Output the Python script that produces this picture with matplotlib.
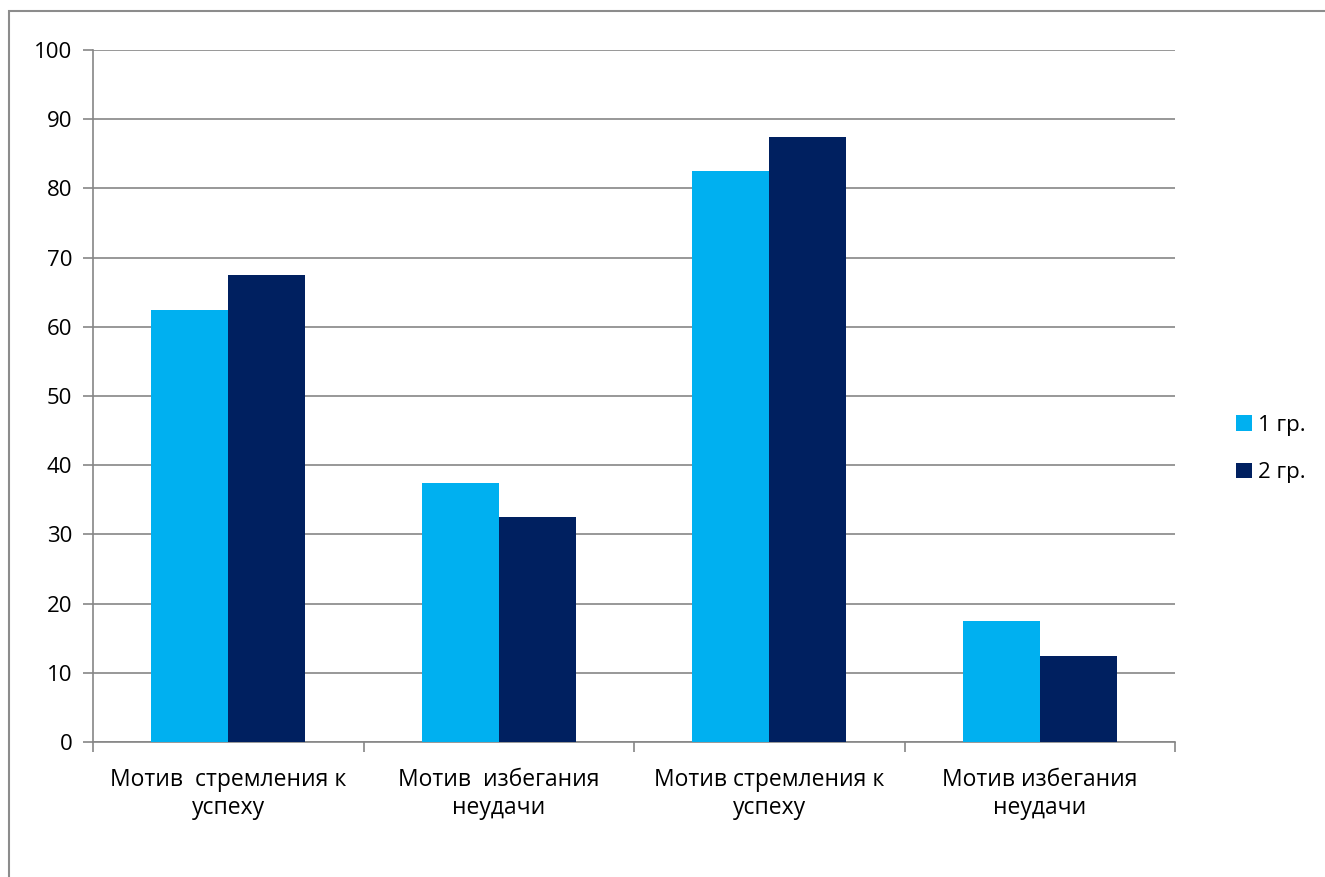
import numpy as np
import matplotlib
matplotlib.use("Agg")
from matplotlib import pyplot as plt
from matplotlib.patches import Rectangle

# Данные по группам
categories = ["Мотив  стремления к\nуспеху", "Мотив  избегания\nнеудачи",
              "Мотив стремления к\nуспеху", "Мотив избегания\nнеудачи"]
group1 = [62.5, 37.5, 82.5, 17.5]
group2 = [67.5, 32.5, 87.5, 12.5]
series_names = ["1 гр.", "2 гр."]
y_ticks = list(range(0, 101, 10))

plt.rcParams['font.family'] = ['Open Sans', 'DejaVu Sans']

fig = plt.figure(figsize=(13.25, 8.77), dpi=100)
ax = fig.add_axes([93/1325, 1 - 742/877, 1082/1325, 692/877])

# рамка области диаграммы
fig.patches.append(Rectangle((9/1325, -0.1), 1.2, 1 - 11/877 + 0.1,
                             transform=fig.transFigure, fill=False,
                             edgecolor='#8c8c8c', linewidth=1.5))

x = np.arange(len(categories))
w = 0.285
ax.bar(x - w/2, group1, w, color='#00B0F0', label=series_names[0], zorder=3)
ax.bar(x + w/2, group2, w, color='#002060', label=series_names[1], zorder=3)

ax.set_xlim(-0.5, len(categories) - 0.5)
ax.set_ylim(0, 100)
ax.set_yticks(y_ticks)
ax.yaxis.grid(True, color='#868686', linewidth=1.2, zorder=0)
ax.set_axisbelow(True)

# категории подписаны между делениями
ax.set_xticks(np.arange(-0.5, len(categories)), minor=False)
ax.set_xticklabels([])
ax.set_xticks(x, minor=True)
ax.set_xticklabels(categories, minor=True, fontsize=16.5, linespacing=1.2)
ax.tick_params(axis='x', which='minor', length=0, pad=19)
ax.tick_params(axis='x', which='major', length=7, color='#868686', width=1.2)
ax.tick_params(axis='y', length=7, color='#868686', width=1.2, labelsize=16, pad=8)

for s in ['top', 'right']:
    ax.spines[s].set_visible(False)
for s in ['left', 'bottom']:
    ax.spines[s].set_color('#868686')
    ax.spines[s].set_linewidth(1.2)

ax.legend(loc='center left', bbox_to_anchor=(1216/1325, 1 - 449/877),
          bbox_transform=fig.transFigure, frameon=False, fontsize=16,
          handlelength=0.7, handleheight=0.7, handletextpad=0.3,
          labelspacing=1.2)

fig.savefig("out.png", dpi=100)
